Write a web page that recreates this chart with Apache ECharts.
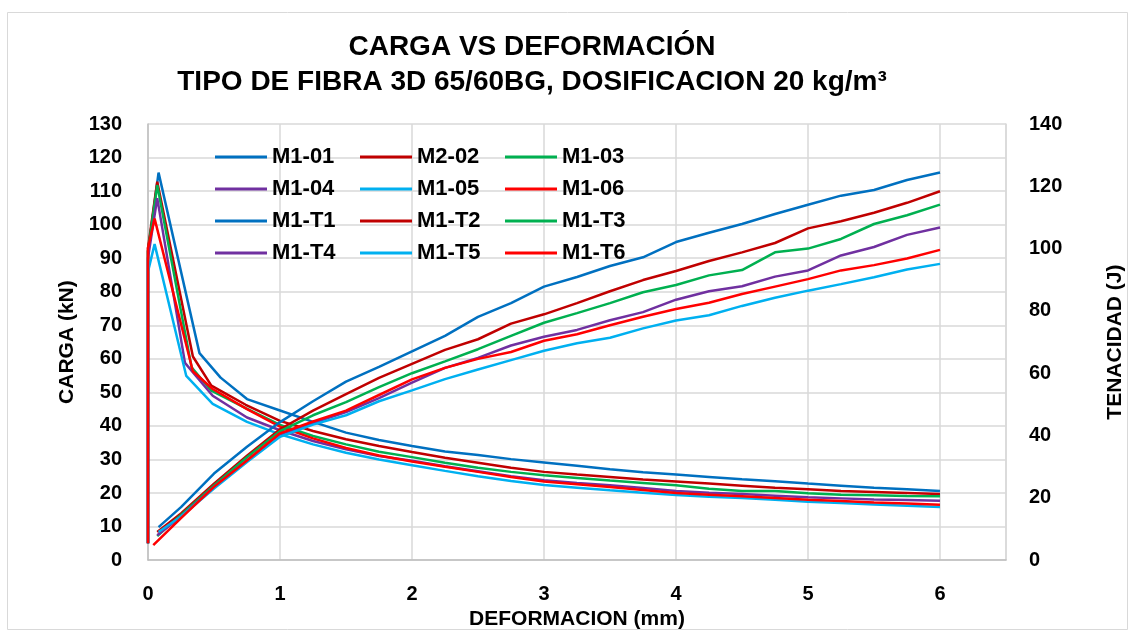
<!DOCTYPE html>
<html>
<head>
<meta charset="utf-8">
<script src="https://cdn.jsdelivr.net/npm/echarts@6/dist/echarts.min.js"></script>
<style>
html,body{margin:0;padding:0;background:#fff;}
#chart{width:1134px;height:635px;}
</style>
</head>
<body>
<div id="chart"></div>
<script>
// Load (kN) vs deformation (mm) — [deformation, load]
const M1_01 = [[0,5],[0,92],[0.08,115.5],[0.39,61.7],[0.55,54.4],[0.75,48],[1,44.6],[1.25,41.2],[1.5,38],[1.75,35.8],[2,34],[2.25,32.4],[2.5,31.3],[2.75,30.1],[3,29.1],[3.25,28.1],[3.5,27.1],[3.75,26.2],[4,25.5],[4.25,24.8],[4.5,24.1],[4.75,23.5],[5,22.8],[5.25,22.2],[5.5,21.6],[5.75,21.1],[6,20.6]];
const M2_02 = [[0,5],[0,93],[0.07,112.8],[0.34,60.7],[0.48,52],[0.74,46.3],[1,41.5],[1.25,38.5],[1.5,36],[1.75,34],[2,32.2],[2.25,30.5],[2.5,29],[2.75,27.5],[3,26.3],[3.25,25.5],[3.5,24.8],[3.75,24],[4,23.4],[4.25,22.8],[4.5,22.2],[4.75,21.6],[5,21.1],[5.25,20.6],[5.5,20.3],[5.75,20],[6,19.7]];
const M1_03 = [[0,5],[0,92],[0.07,111.8],[0.33,57.5],[0.48,50.5],[0.74,45.3],[1,40.3],[1.25,37],[1.5,34.5],[1.75,32.3],[2,30.7],[2.25,29],[2.5,27.5],[2.75,26.3],[3,25.3],[3.25,24.5],[3.5,23.7],[3.75,23],[4,22.3],[4.25,21.3],[4.5,20.6],[4.75,20.6],[5,19.9],[5.25,19.5],[5.5,19.3],[5.75,19.1],[6,19.0]];
const M1_04 = [[0,5],[0,90],[0.07,107.9],[0.28,58.8],[0.49,49],[0.75,42.5],[1,38.7],[1.25,35.5],[1.5,33],[1.75,31],[2,29.6],[2.25,28],[2.5,26.5],[2.75,25],[3,23.8],[3.25,23],[3.5,22.3],[3.75,21.5],[4,20.6],[4.25,20.1],[4.5,19.7],[4.75,19.2],[5,18.7],[5.25,18.4],[5.5,18.1],[5.75,17.9],[6,17.7]];
const M1_05 = [[0,5],[0,86],[0.05,94.2],[0.29,54.9],[0.49,46.6],[0.75,41.2],[1,37.5],[1.25,34.5],[1.5,32],[1.75,30],[2,28.3],[2.25,26.6],[2.5,25],[2.75,23.6],[3,22.4],[3.25,21.6],[3.5,20.8],[3.75,20.1],[4,19.4],[4.25,18.9],[4.5,18.5],[4.75,18],[5,17.4],[5.25,17],[5.5,16.6],[5.75,16.2],[6,15.8]];
const M1_06 = [[0,5],[0,93],[0.05,101.8],[0.34,56.3],[0.49,51],[0.75,45],[1,39.8],[1.25,36.3],[1.5,33.4],[1.75,31.2],[2,29.4],[2.25,27.8],[2.5,26.3],[2.75,24.8],[3,23.4],[3.25,22.6],[3.5,21.8],[3.75,20.9],[4,20],[4.25,19.5],[4.5,19],[4.75,18.5],[5,18],[5.25,17.6],[5.5,17.2],[5.75,16.9],[6,16.5]];

// Toughness (J) vs deformation (mm) — [deformation, toughness]
const M1_T1 = [[0.08,10.6],[0.25,17],[0.5,27.8],[0.75,36.4],[1,44.3],[1.25,51],[1.5,57.3],[1.75,62],[2,67],[2.25,72],[2.5,78.1],[2.75,82.5],[3,87.8],[3.25,90.9],[3.5,94.4],[3.75,97.2],[4,102.1],[4.25,105.1],[4.5,107.9],[4.75,111.1],[5,114.1],[5.25,117],[5.5,118.8],[5.75,122],[6,124.4]];
const M1_T2 = [[0.07,9],[0.25,15],[0.5,24.5],[0.75,33.5],[1,42],[1.25,48],[1.5,53.3],[1.75,58.5],[2,63],[2.25,67.5],[2.5,70.9],[2.75,75.9],[3,78.9],[3.25,82.5],[3.5,86.3],[3.75,89.9],[4,92.8],[4.25,96],[4.5,98.8],[4.75,101.8],[5,106.5],[5.25,108.8],[5.5,111.5],[5.75,114.7],[6,118.4]];
const M1_T3 = [[0.07,7.7],[0.25,14.5],[0.5,24],[0.75,33],[1,41.4],[1.25,46.5],[1.5,50.7],[1.75,55.5],[2,60],[2.25,63.8],[2.5,67.7],[2.75,72],[3,76.2],[3.25,79.3],[3.5,82.5],[3.75,86],[4,88.3],[4.25,91.4],[4.5,93.1],[4.75,98.8],[5,100],[5.25,103.1],[5.5,107.9],[5.75,110.7],[6,114.1]];
const M1_T4 = [[0.07,8],[0.25,14],[0.5,23.5],[0.75,32],[1,40.4],[1.25,44],[1.5,47.5],[1.75,52],[2,57],[2.25,61.7],[2.5,64.9],[2.75,68.9],[3,71.7],[3.25,73.9],[3.5,77],[3.75,79.6],[4,83.6],[4.25,86.3],[4.5,87.9],[4.75,91],[5,93],[5.25,97.8],[5.5,100.5],[5.75,104.4],[6,106.8]];
const M1_T5 = [[0.08,9],[0.25,14],[0.5,23],[0.75,31.5],[1,39.6],[1.25,43.5],[1.5,46.5],[1.75,51],[2,54.5],[2.25,58.1],[2.5,61.2],[2.75,64.2],[3,67.2],[3.25,69.6],[3.5,71.4],[3.75,74.4],[4,76.9],[4.25,78.6],[4.5,81.6],[4.75,84.2],[5,86.5],[5.25,88.6],[5.5,90.8],[5.75,93.3],[6,95.1]];
const M1_T6 = [[0.04,4.8],[0.25,13.5],[0.5,23.5],[0.75,32],[1,40.7],[1.25,44.5],[1.5,48],[1.75,53],[2,58],[2.25,61.7],[2.5,64.6],[2.75,66.8],[3,70.4],[3.25,72.5],[3.5,75.4],[3.75,78.1],[4,80.6],[4.25,82.6],[4.5,85.4],[4.75,87.8],[5,90.2],[5.25,93],[5.5,94.7],[5.75,96.8],[6,99.6]];

const seriesNames = ['M1-01','M2-02','M1-03','M1-04','M1-05','M1-06','M1-T1','M1-T2','M1-T3','M1-T4','M1-T5','M1-T6'];
const seriesData = [M1_01,M2_02,M1_03,M1_04,M1_05,M1_06,M1_T1,M1_T2,M1_T3,M1_T4,M1_T5,M1_T6];
const colors = ['#0070C0','#C00000','#00B050','#7030A0','#00B0F0','#FF0000'];

const FONT = '"Liberation Sans", Arial, sans-serif';
const chart = echarts.init(document.getElementById('chart'));

const series = seriesNames.map((name, i) => ({
  name: name,
  type: 'line',
  data: seriesData[i],
  yAxisIndex: i < 6 ? 0 : 1,
  showSymbol: false,
  symbol: 'none',
  smooth: false,
  lineStyle: { width: 2.5, color: colors[i % 6] },
  itemStyle: { color: colors[i % 6] },
  z: 2 + i,
  animation: false
}));

const legendBase = {
  orient: 'vertical',
  top: 146,
  padding: 0,
  icon: 'rect',
  itemWidth: 52,
  itemHeight: 3,
  itemGap: 10,
  textStyle: { fontFamily: FONT, fontWeight: 'bold', fontSize: 22, color: '#000', lineHeight: 22 },
  selectedMode: false
};

chart.setOption({
  backgroundColor: '#fff',
  animation: false,
  color: colors,
  title: {
    text: 'CARGA VS DEFORMACIÓN\nTIPO DE FIBRA 3D 65/60BG, DOSIFICACION 20 kg/m³',
    left: 527,
    top: 25,
    textAlign: 'center',
    textStyle: { fontFamily: FONT, fontWeight: 'bold', fontSize: 28, lineHeight: 35, color: '#000' }
  },
  legend: [
    Object.assign({}, legendBase, { left: 215, data: ['M1-01','M1-04','M1-T1','M1-T4'] }),
    Object.assign({}, legendBase, { left: 360, data: ['M2-02','M1-05','M1-T2','M1-T5'] }),
    Object.assign({}, legendBase, { left: 505, data: ['M1-03','M1-06','M1-T3','M1-T6'] })
  ],
  grid: { left: 148, right: 127, top: 124, bottom: 68, containLabel: false },
  xAxis: {
    type: 'value',
    min: 0, max: 6.5, interval: 1,
    name: 'DEFORMACION (mm)',
    nameLocation: 'middle',
    nameGap: 41,
    nameTextStyle: { fontFamily: FONT, fontWeight: 'bold', fontSize: 21, color: '#000' },
    axisLine: { show: true, lineStyle: { color: '#bfbfbf', width: 1.5 } },
    axisTick: { show: false },
    axisLabel: {
      margin: 24, fontFamily: FONT, fontWeight: 'bold', fontSize: 20, color: '#000',
      showMaxLabel: false,
      formatter: v => (Math.abs(v - Math.round(v)) < 1e-9 ? String(Math.round(v)) : '')
    },
    splitLine: { show: true, lineStyle: { color: '#d9d9d9', width: 1.5 } }
  },
  yAxis: [
    {
      type: 'value', min: 0, max: 130, interval: 10,
      name: 'CARGA (kN)',
      nameLocation: 'middle',
      nameGap: 70,
      nameTextStyle: { fontFamily: FONT, fontWeight: 'bold', fontSize: 21, color: '#000' },
      axisLine: { show: true, lineStyle: { color: '#bfbfbf', width: 1.5 } },
      axisTick: { show: false },
      axisLabel: { margin: 26, fontFamily: FONT, fontWeight: 'bold', fontSize: 20, color: '#000' },
      splitLine: { show: true, lineStyle: { color: '#d9d9d9', width: 1.5 } }
    },
    {
      type: 'value', min: 0, max: 140, interval: 20,
      name: 'TENACIDAD (J)',
      nameLocation: 'middle',
      nameGap: 99,
      nameTextStyle: { fontFamily: FONT, fontWeight: 'bold', fontSize: 21, color: '#000' },
      axisLine: { show: true, lineStyle: { color: '#d9d9d9', width: 1.5 } },
      axisTick: { show: false },
      axisLabel: { margin: 23, fontFamily: FONT, fontWeight: 'bold', fontSize: 20, color: '#000' },
      splitLine: { show: false }
    }
  ],
  graphic: [{
    type: 'rect',
    shape: { x: 7.5, y: 12.5, width: 1120, height: 617 },
    style: { fill: 'none', stroke: '#d9d9d9', lineWidth: 1 },
    silent: true
  }],
  series: series
});
</script>
</body>
</html>
